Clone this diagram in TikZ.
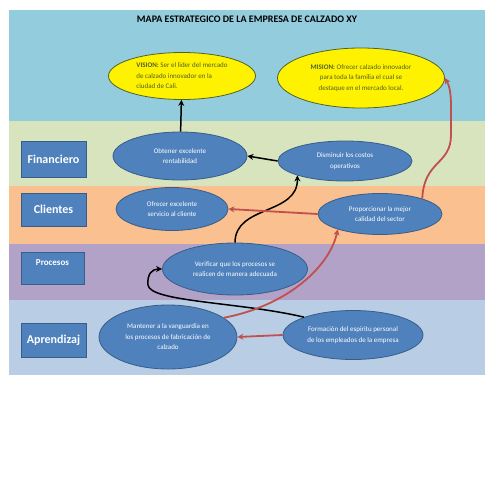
\documentclass[tikz,border=0pt]{standalone}
\usepackage{fontspec}
\setmainfont{Carlito}
\usetikzlibrary{shapes.geometric,arrows.meta}

\definecolor{cielo}{HTML}{93CDDD}
\definecolor{verdeclaro}{HTML}{D7E4BD}
\definecolor{naranja}{HTML}{FAC090}
\definecolor{lila}{HTML}{B3A2C7}
\definecolor{celeste}{HTML}{B9CDE5}
\definecolor{azul}{HTML}{4F81BD}
\definecolor{azulborde}{HTML}{385D8A}
\definecolor{rojo}{HTML}{C0504D}
\definecolor{olivo}{HTML}{4F6228}

\begin{document}
\begin{tikzpicture}[x=1pt,y=-1pt,>={Stealth[length=6pt,width=6pt]}]
        \tikzstyle{obj}=[draw=azulborde,line width=0.8pt,fill=azul,shape=ellipse,inner sep=0pt,text=white,align=center,font=\fontsize{7}{10.5}\selectfont]
        \tikzstyle{meta}=[draw=olivo,line width=0.8pt,fill=yellow,shape=ellipse,inner sep=0pt,text=olivo,font=\fontsize{7}{10.5}\selectfont]
        \tikzstyle{persp}=[draw=azulborde,line width=0.8pt,fill=azul,text=white,font=\bfseries\fontsize{12}{14}\selectfont]
        \tikzstyle{negra}=[->,line width=1.5pt]
        \tikzstyle{roja}=[->,rojo,line width=1.8pt]

        \useasboundingbox[fill=white] (0,0) rectangle (495,495);
        \fill[cielo] (9,10) rectangle (485,121);
        \fill[verdeclaro] (9,121) rectangle (485,186);
        \fill[naranja] (9,186) rectangle (485,244);
        \fill[lila] (9,244) rectangle (485,300);
        \fill[celeste] (9,300) rectangle (485,375);

        \node[font=\bfseries\fontsize{10}{12}\selectfont](titulo) at (247,19){MAPA ESTRATEGICO DE LA EMPRESA DE CALZADO XY};

        \node[meta,align=left,minimum width=147pt,minimum height=47pt](vision) at (182,76){\textbf{VISION:} Ser el lider del mercado\\de calzado innovador en la\\ciudad de Cali.};
        \node[meta,align=center,minimum width=167pt,minimum height=60pt](mision) at (361,78){\textbf{MISION:} Ofrecer calzado innovador\\para toda la familia el cual se\\destaque en el mercado local.};

        \node[persp,minimum width=65pt,minimum height=36pt](lfin) at (53.5,159){Financiero};
        \node[persp,minimum width=65pt,minimum height=33pt](lcli) at (53.5,209.5){Clientes};
        \node[persp,minimum width=63pt,minimum height=32pt,text depth=10pt,font=\bfseries\fontsize{9}{11}\selectfont](lpro) at (52.5,268){Procesos};
        \node[persp,minimum width=65pt,minimum height=34pt](lapr) at (53.5,340){Aprendizaj};

        \node[obj,minimum width=134pt,minimum height=48pt](rentab) at (180,156){Obtener excelente\\rentabilidad};
        \node[obj,minimum width=134pt,minimum height=40pt](costos) at (345,161){Disminuir los costos\\operativos};
        \node[obj,minimum width=112pt,minimum height=43pt](servicio) at (172,209){Ofrecer excelente\\servicio al cliente};
        \node[obj,minimum width=124pt,minimum height=41pt](calidad) at (380,214){Proporcionar la mejor\\calidad del sector};
        \node[obj,minimum width=145pt,minimum height=52pt](verificar) at (235,269){Verificar que los procesos se\\realicen de manera adecuada};
        \node[obj,minimum width=138pt,minimum height=64pt](vanguardia) at (168,337){Mantener a la vanguardia en\\los procesos de fabricación de\\calzado};
        \node[obj,minimum width=140pt,minimum height=49pt](formacion) at (353,335){Formación del espiritu personal\\de los empleados de la empresa};

        \draw[negra] (rentab) -- (vision);
        \draw[negra] (costos.west) -- (rentab.east);
        \draw[negra] (verificar.north) .. controls (235,205) and (298,215) .. (costos.south west);
        \draw[negra] (formacion.160) .. controls (240,302) and (150,302) .. (148,285) .. controls (147,274) and (152,269) .. (verificar.west);

        \draw[roja] (calidad.west) -- (servicio.east);
        \draw[roja] (calidad.20) .. controls (424,160) and (451,165) .. (451,135) .. controls (451,105) and (452,90) .. (mision.east);
        \draw[roja] (vanguardia.19) .. controls (290,305) and (330,265) .. (calidad.200);
        \draw[roja] (formacion.west) -- (vanguardia.east);

    \end{tikzpicture}
\end{document}
